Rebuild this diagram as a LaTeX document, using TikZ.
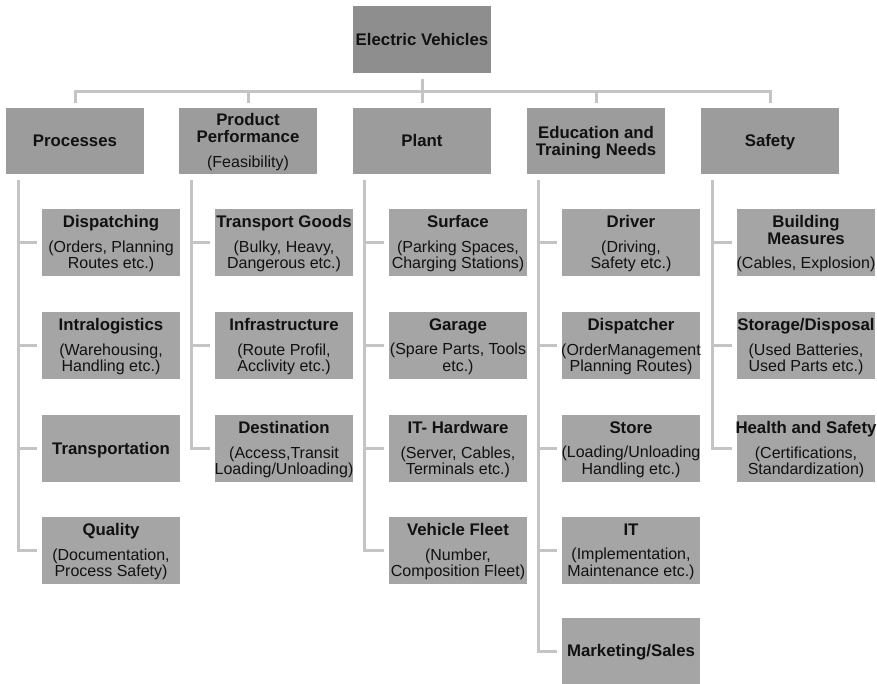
\documentclass[tikz,border=0pt]{standalone}
\usepackage{fontspec}
\setmainfont{Liberation Sans}
\definecolor{topfill}{HTML}{8E8E8E}
\definecolor{midfill}{HTML}{9C9C9C}
\definecolor{leaffill}{HTML}{A5A5A5}
\definecolor{linec}{HTML}{C4C4C4}
\definecolor{txt}{HTML}{111111}
\newcommand\boxtitle[1]{{\fontsize{16.8}{17}\selectfont\bfseries #1}}
\newcommand\boxtext[1]{\makebox[0pt]{\raisebox{-2pt}[\height][\depth]{\begin{tabular}{@{}c@{}}#1\end{tabular}}}}
\tikzset{
  box/.style={anchor=north west, inner sep=0pt, outer sep=0pt, minimum width=138pt, minimum height=67pt, text=txt, font=\fontsize{16}{16.2}\selectfont},
  topbox/.style={box, fill=topfill},
  catbox/.style={box, fill=midfill, minimum height=66pt},
  leafbox/.style={box, fill=leaffill},
  conn/.style={draw=linec, line width=3pt},
}
\renewcommand\arraystretch{1}
\begin{document}
\begin{tikzpicture}[x=1pt,y=-1pt]
\useasboundingbox[fill=white] (0,0) rectangle (877,684);
% top
\node[topbox] (ev) at (353,6) {\boxtext{\boxtitle{Electric Vehicles}}};
% categories
\node[catbox] (proc) at (6,108) {\boxtext{\boxtitle{Processes}}};
\node[catbox] (perf) at (179,108) {\boxtext{\boxtitle{Product}\\\boxtitle{Performance}\\[8pt](Feasibility)}};
\node[catbox] (plant) at (353,108) {\boxtext{\boxtitle{Plant}}};
\node[catbox] (edu) at (527,108) {\boxtext{\boxtitle{Education and}\\\boxtitle{Training Needs}}};
\node[catbox] (safe) at (701,108) {\boxtext{\boxtitle{Safety}}};
% Processes
\node[leafbox] (disp) at (42,209) {\boxtext{\boxtitle{Dispatching}\\[8pt](Orders, Planning\\Routes etc.)}};
\node[leafbox] (intra) at (42,312) {\boxtext{\boxtitle{Intralogistics}\\[8pt](Warehousing,\\Handling etc.)}};
\node[leafbox] (transp) at (42,415) {\boxtext{\boxtitle{Transportation}}};
\node[leafbox] (qual) at (42,517) {\boxtext{\boxtitle{Quality}\\[8pt](Documentation,\\Process Safety)}};
% Product Performance
\node[leafbox] (goods) at (215,209) {\boxtext{\boxtitle{Transport Goods}\\[8pt](Bulky, Heavy,\\Dangerous etc.)}};
\node[leafbox] (infra) at (215,312) {\boxtext{\boxtitle{Infrastructure}\\[8pt](Route Profil,\\Acclivity etc.)}};
\node[leafbox] (dest) at (215,415) {\boxtext{\boxtitle{Destination}\\[8pt](Access,Transit\\Loading/Unloading)}};
% Plant
\node[leafbox] (surf) at (389,209) {\boxtext{\boxtitle{Surface}\\[8pt](Parking Spaces,\\Charging Stations)}};
\node[leafbox] (garage) at (389,312) {\boxtext{\boxtitle{Garage}\\[8pt](Spare Parts, Tools\\etc.)}};
\node[leafbox] (ithw) at (389,415) {\boxtext{\boxtitle{IT- Hardware}\\[8pt](Server, Cables,\\Terminals etc.)}};
\node[leafbox] (fleet) at (389,517) {\boxtext{\boxtitle{Vehicle Fleet}\\[8pt](Number,\\Composition Fleet)}};
% Education
\node[leafbox] (driver) at (562,209) {\boxtext{\boxtitle{Driver}\\[8pt](Driving,\\Safety etc.)}};
\node[leafbox] (dispr) at (562,312) {\boxtext{\boxtitle{Dispatcher}\\[8pt](OrderManagement\\Planning Routes)}};
\node[leafbox] (store) at (562,415) {\boxtext{\boxtitle{Store}\\[8pt](Loading/Unloading\\Handling etc.)}};
\node[leafbox] (it) at (562,517) {\boxtext{\boxtitle{IT}\\[8pt](Implementation,\\Maintenance etc.)}};
\node[leafbox, minimum height=66pt] (mkt) at (562,618) {\boxtext{\boxtitle{Marketing/Sales}}};
% Safety
\node[leafbox] (build) at (737,209) {\boxtext{\boxtitle{Building}\\\boxtitle{Measures}\\[8pt](Cables, Explosion)}};
\node[leafbox] (stor) at (737,312) {\boxtext{\boxtitle{Storage/Disposal}\\[8pt](Used Batteries,\\Used Parts etc.)}};
\node[leafbox] (health) at (737,415) {\boxtext{\boxtitle{Health and Safety}\\[8pt](Certifications,\\Standardization)}};
% top connectors
\coordinate (bus) at (422,92);
\draw[conn, shorten <=6pt, shorten >=5pt] (ev.south) -- (plant.north);
\draw[conn, shorten <=5pt, shorten >=5pt] (proc.north) |- (bus) -| (safe.north);
\draw[conn, shorten >=5pt] (bus -| perf.north) -- (perf.north);
\draw[conn, shorten >=5pt] (bus -| edu.north) -- (edu.north);
% child connectors
\coordinate (procv) at ([xshift=12pt]proc.south west);
\coordinate (perfv) at ([xshift=12pt]perf.south west);
\coordinate (plantv) at ([xshift=11pt]plant.south west);
\coordinate (eduv) at ([xshift=11pt]edu.south west);
\coordinate (safev) at ([xshift=11pt]safe.south west);
\draw[conn, shorten <=6pt, shorten >=5pt] (procv) |- (qual.west);
\foreach \c in {disp,intra,transp} \draw[conn, shorten >=5pt] (procv |- \c.west) -- (\c.west);
\draw[conn, shorten <=6pt, shorten >=5pt] (perfv) |- (dest.west);
\foreach \c in {goods,infra} \draw[conn, shorten >=5pt] (perfv |- \c.west) -- (\c.west);
\draw[conn, shorten <=6pt, shorten >=5pt] (plantv) |- (fleet.west);
\foreach \c in {surf,garage,ithw} \draw[conn, shorten >=5pt] (plantv |- \c.west) -- (\c.west);
\draw[conn, shorten <=6pt, shorten >=5pt] (eduv) |- (mkt.west);
\foreach \c in {driver,dispr,store,it} \draw[conn, shorten >=5pt] (eduv |- \c.west) -- (\c.west);
\draw[conn, shorten <=6pt, shorten >=5pt] (safev) |- (health.west);
\foreach \c in {build,stor} \draw[conn, shorten >=5pt] (safev |- \c.west) -- (\c.west);
\end{tikzpicture}
\end{document}
